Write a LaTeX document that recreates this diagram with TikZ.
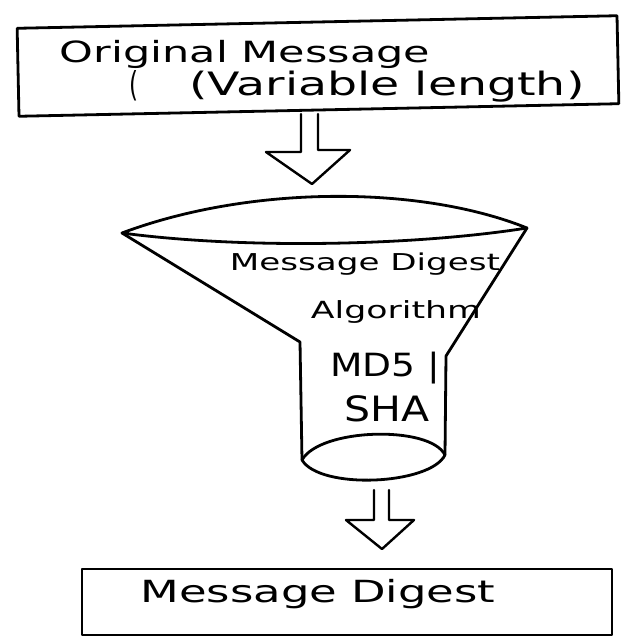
\documentclass[tikz,border=0pt]{standalone}
\usepackage{fontspec}
\setmainfont{DejaVu Sans}
% set a text to a given width, then flatten it by the optional factor
\newcommand{\fitto}[3][0.68]{\scalebox{1}[#1]{\resizebox{#2}{!}{#3}}}
\begin{document}
\begin{tikzpicture}[x=1pt,y=-1pt,
  ink/.style={draw=black, line width=2.8pt, line join=round, line cap=round},
  msgbox/.style={ink, rectangle, minimum width=#1, inner sep=0pt},
  label/.style={inner sep=0pt, font=\fontsize{20}{24}\selectfont},
  hollow/.style={ink, line width=2.4pt}]
\useasboundingbox (0,0) rectangle (623,640);

% input block
\node[msgbox=600pt, minimum height=88pt, rotate=1.2] (orig) at (318,66) {};
\node[label] (origtxt) at (245,54) {\fitto{370pt}{Original Message}};
\node[label] (brk) at (134,86) {\resizebox{9pt}{26pt}{(}};
\node[label] (lentxt) at (387,87) {\fitto{395pt}{(Variable length)}};

% funnel outline
\coordinate (tl) at (122,233);
\coordinate (tr) at (527,228);
\coordinate (nl) at (300,342);
\coordinate (nr) at (446,356);
\coordinate (bl) at (302,460);
\coordinate (br) at (445,455);
\draw[ink] (tl) .. controls (250,185) and (420,185) .. (tr)
           .. controls (420,245) and (250,250) .. (tl);
\draw[ink] (tl) -- (nl) -- (bl);
\draw[ink] (tr) -- (nr) -- (br);
\draw[ink] (bl) .. controls (320,428) and (430,425) .. (br)
           .. controls (430,485) and (320,490) .. (bl);
\node[label] (algo1) at (365,264) {\fitto{270pt}{Message Digest}};
\node[label] (algo2) at (396,312) {\fitto{170pt}{Algorithm}};
\node[label] (algo3) at (385,368) {\fitto[0.85]{110pt}{MD5 |}};
\node[label] (algo4) at (387,409) {\fitto[0.85]{85pt}{SHA}};

% output block
\node[msgbox=530pt, minimum height=66pt] (digest) at (347,602) {};
\node[label] (digesttxt) at (318,594) {\fitto{355pt}{Message Digest}};

% hollow arrow: input block -> funnel
\draw[hollow] (301,114) -- (301,152) -- (266,152) -- (312,184) -- (350,150) -- (318,150) -- (318,114);
% hollow arrow: funnel -> output block
\draw[hollow] (374,490) -- (374,520) -- (346,520) -- (382,549) -- (414,520) -- (389,520) -- (389,490);
\end{tikzpicture}
\end{document}
